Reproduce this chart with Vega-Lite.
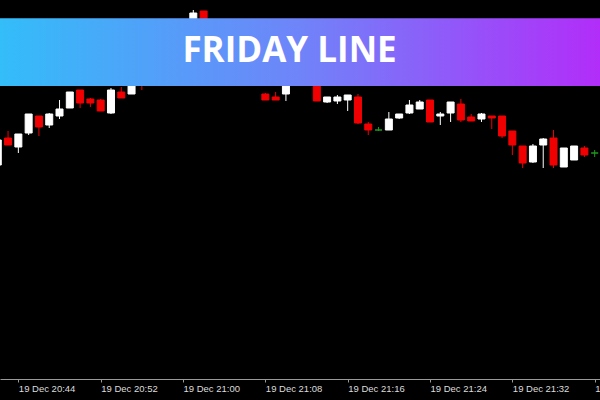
{
  "$schema": "https://vega.github.io/schema/vega-lite/v6.json",
  "width": 600,
  "height": 379,
  "autosize": {"type": "none"},
  "padding": {"left": 0, "right": 0, "top": 0, "bottom": 21},
  "background": "#000000",
  "config": {"view": {"stroke": null}, "scale": {"continuousPadding": 0}},
  "datasets": {
    "candles": [
      {"t": "2019-12-19T20:42:00", "open": 214, "high": 240, "low": 213, "close": 239},
      {"t": "2019-12-19T20:43:00", "open": 241, "high": 248, "low": 234, "close": 234},
      {"t": "2019-12-19T20:44:00", "open": 232, "high": 245, "low": 226, "close": 245},
      {"t": "2019-12-19T20:45:00", "open": 246, "high": 265, "low": 244, "close": 265},
      {"t": "2019-12-19T20:46:00", "open": 263, "high": 263, "low": 243, "close": 252},
      {"t": "2019-12-19T20:47:00", "open": 254, "high": 266, "low": 251, "close": 265},
      {"t": "2019-12-19T20:48:00", "open": 263, "high": 279, "low": 260, "close": 270},
      {"t": "2019-12-19T20:49:00", "open": 271, "high": 287, "low": 271, "close": 287},
      {"t": "2019-12-19T20:50:00", "open": 289, "high": 289, "low": 271, "close": 276},
      {"t": "2019-12-19T20:51:00", "open": 280, "high": 281, "low": 272, "close": 276},
      {"t": "2019-12-19T20:52:00", "open": 279, "high": 280, "low": 268, "close": 268},
      {"t": "2019-12-19T20:53:00", "open": 266, "high": 291, "low": 265, "close": 289},
      {"t": "2019-12-19T20:54:00", "open": 287, "high": 292, "low": 281, "close": 281},
      {"t": "2019-12-19T20:55:00", "open": 285, "high": 304, "low": 285, "close": 299},
      {"t": "2019-12-19T20:56:00", "open": 307, "high": 314, "low": 289, "close": 295},
      {"t": "2019-12-19T20:57:00", "open": 301, "high": 324, "low": 299, "close": 319},
      {"t": "2019-12-19T20:58:00", "open": 317, "high": 339, "low": 314, "close": 334},
      {"t": "2019-12-19T20:59:00", "open": 337, "high": 341, "low": 319, "close": 324},
      {"t": "2019-12-19T21:00:00", "open": 327, "high": 354, "low": 324, "close": 351},
      {"t": "2019-12-19T21:01:00", "open": 349, "high": 369, "low": 344, "close": 366},
      {"t": "2019-12-19T21:02:00", "open": 368, "high": 368, "low": 334, "close": 339},
      {"t": "2019-12-19T21:03:00", "open": 341, "high": 349, "low": 321, "close": 324},
      {"t": "2019-12-19T21:04:00", "open": 327, "high": 331, "low": 309, "close": 314},
      {"t": "2019-12-19T21:05:00", "open": 313, "high": 327, "low": 307, "close": 321},
      {"t": "2019-12-19T21:06:00", "open": 319, "high": 323, "low": 297, "close": 301},
      {"t": "2019-12-19T21:07:00", "open": 301, "high": 307, "low": 294, "close": 294},
      {"t": "2019-12-19T21:08:00", "open": 285, "high": 286, "low": 279, "close": 279},
      {"t": "2019-12-19T21:09:00", "open": 282, "high": 287, "low": 279, "close": 279},
      {"t": "2019-12-19T21:10:00", "open": 285, "high": 304, "low": 278, "close": 299},
      {"t": "2019-12-19T21:11:00", "open": 297, "high": 311, "low": 295, "close": 307},
      {"t": "2019-12-19T21:12:00", "open": 304, "high": 317, "low": 299, "close": 313},
      {"t": "2019-12-19T21:13:00", "open": 304, "high": 309, "low": 278, "close": 278},
      {"t": "2019-12-19T21:14:00", "open": 277, "high": 282, "low": 276, "close": 282},
      {"t": "2019-12-19T21:15:00", "open": 278, "high": 284, "low": 275, "close": 282},
      {"t": "2019-12-19T21:16:00", "open": 279, "high": 284, "low": 268, "close": 284},
      {"t": "2019-12-19T21:17:00", "open": 282, "high": 285, "low": 255, "close": 256},
      {"t": "2019-12-19T21:18:00", "open": 255, "high": 257, "low": 244, "close": 249},
      {"t": "2019-12-19T21:19:00", "open": 249, "high": 252, "low": 248, "close": 249},
      {"t": "2019-12-19T21:20:00", "open": 249, "high": 267, "low": 249, "close": 260},
      {"t": "2019-12-19T21:21:00", "open": 261, "high": 265, "low": 260, "close": 265},
      {"t": "2019-12-19T21:22:00", "open": 266, "high": 279, "low": 265, "close": 274},
      {"t": "2019-12-19T21:23:00", "open": 270, "high": 279, "low": 270, "close": 277},
      {"t": "2019-12-19T21:24:00", "open": 279, "high": 279, "low": 257, "close": 257},
      {"t": "2019-12-19T21:25:00", "open": 263, "high": 267, "low": 254, "close": 265},
      {"t": "2019-12-19T21:26:00", "open": 266, "high": 277, "low": 257, "close": 277},
      {"t": "2019-12-19T21:27:00", "open": 275, "high": 280, "low": 257, "close": 259},
      {"t": "2019-12-19T21:28:00", "open": 262, "high": 265, "low": 258, "close": 258},
      {"t": "2019-12-19T21:29:00", "open": 260, "high": 266, "low": 257, "close": 265},
      {"t": "2019-12-19T21:30:00", "open": 263, "high": 263, "low": 250, "close": 261},
      {"t": "2019-12-19T21:31:00", "open": 263, "high": 263, "low": 241, "close": 243},
      {"t": "2019-12-19T21:32:00", "open": 248, "high": 248, "low": 224, "close": 234},
      {"t": "2019-12-19T21:33:00", "open": 233, "high": 233, "low": 211, "close": 216},
      {"t": "2019-12-19T21:34:00", "open": 217, "high": 235, "low": 216, "close": 233},
      {"t": "2019-12-19T21:35:00", "open": 234, "high": 241, "low": 211, "close": 240},
      {"t": "2019-12-19T21:36:00", "open": 241, "high": 249, "low": 211, "close": 214},
      {"t": "2019-12-19T21:37:00", "open": 212, "high": 231, "low": 212, "close": 231},
      {"t": "2019-12-19T21:38:00", "open": 219, "high": 233, "low": 219, "close": 233},
      {"t": "2019-12-19T21:39:00", "open": 231, "high": 233, "low": 222, "close": 224},
      {"t": "2019-12-19T21:40:00", "open": 226, "high": 229, "low": 222, "close": 226}
    ],
    "banner": [{"label": "FRIDAY LINE"}]
  },
  "layer": [
    {
      "data": {"name": "candles"},
      "mark": {"type": "rule", "strokeWidth": 1, "clip": true},
      "encoding": {
        "x": {
          "field": "t", "type": "temporal",
          "scale": {
            "domain": [
              {"year": 2019, "month": 12, "date": 19, "hours": 20, "minutes": 42, "seconds": 13},
              {"year": 2019, "month": 12, "date": 19, "hours": 21, "minutes": 40, "seconds": 31}
            ],
            "nice": false,
            "padding": 0
          },
          "axis": {
            "title": null,
            "orient": "bottom",
            "values": [
              {"year": 2019, "month": 12, "date": 19, "hours": 20, "minutes": 44},
              {"year": 2019, "month": 12, "date": 19, "hours": 20, "minutes": 52},
              {"year": 2019, "month": 12, "date": 19, "hours": 21, "minutes": 0},
              {"year": 2019, "month": 12, "date": 19, "hours": 21, "minutes": 8},
              {"year": 2019, "month": 12, "date": 19, "hours": 21, "minutes": 16},
              {"year": 2019, "month": 12, "date": 19, "hours": 21, "minutes": 24},
              {"year": 2019, "month": 12, "date": 19, "hours": 21, "minutes": 32},
              {"year": 2019, "month": 12, "date": 19, "hours": 21, "minutes": 40}
            ],
            "format": "%d %b %H:%M",
            "grid": false,
            "domainColor": "#9a9a9a",
            "domainWidth": 1,
            "tickColor": "#9a9a9a",
            "tickSize": 3,
            "labelAlign": "left",
            "labelBaseline": "top",
            "labelPadding": 1,
            "labelFlush": false,
            "labelOverlap": false,
            "labelFont": "Liberation Sans",
            "labelFontSize": 9.5,
            "labelColor": "#dddddd"
          }
        },
        "y": {"field": "low", "type": "quantitative", "scale": {"domain": [0, 379], "nice": false, "zero": false}, "axis": null},
        "y2": {"field": "high"},
        "color": {
          "condition": [
            {"test": "datum.open === datum.close", "value": "#1c9c1c"},
            {"test": "datum.close > datum.open", "value": "#ffffff"}
          ],
          "value": "#f00000"
        }
      }
    },
    {
      "data": {"name": "candles"},
      "mark": {"type": "bar", "size": 7, "strokeWidth": 1, "clip": true},
      "encoding": {
        "x": {"field": "t", "type": "temporal"},
        "y": {"field": "open", "type": "quantitative"},
        "y2": {"field": "close"},
        "fill": {
          "condition": [
            {"test": "datum.open === datum.close", "value": "#1c9c1c"},
            {"test": "datum.close > datum.open", "value": "#ffffff"}
          ],
          "value": "#f00000"
        },
        "stroke": {
          "condition": [
            {"test": "datum.open === datum.close", "value": "#1c9c1c"},
            {"test": "datum.close > datum.open", "value": "#ffffff"}
          ],
          "value": "#f00000"
        }
      }
    },
    {
      "data": {"name": "banner"},
      "mark": {
        "type": "rect",
        "clip": true,
        "fill": {
          "gradient": "linear", "x1": 0, "y1": 0, "x2": 1, "y2": 0,
          "stops": [
            {"offset": 0, "color": "#33bdf9"},
            {"offset": 0.5, "color": "#6f84f9"},
            {"offset": 1, "color": "#b22df9"}
          ]
        }
      },
      "encoding": {
        "x": {"datum": {"year": 2019, "month": 12, "date": 19, "hours": 20, "minutes": 42, "seconds": 13}, "type": "temporal"},
        "x2": {"datum": {"year": 2019, "month": 12, "date": 19, "hours": 21, "minutes": 40, "seconds": 31}},
        "y": {"datum": 293, "type": "quantitative"},
        "y2": {"datum": 360.7}
      }
    },
    {
      "data": {"name": "banner"},
      "mark": {"type": "text", "font": "Open Sans", "fontWeight": "bold", "fontSize": 35, "color": "#ffffff", "align": "center", "baseline": "middle"},
      "encoding": {
        "x": {"datum": {"year": 2019, "month": 12, "date": 19, "hours": 21, "minutes": 10, "seconds": 21}, "type": "temporal"},
        "y": {"datum": 328.5, "type": "quantitative"},
        "text": {"field": "label"}
      }
    }
  ]
}
